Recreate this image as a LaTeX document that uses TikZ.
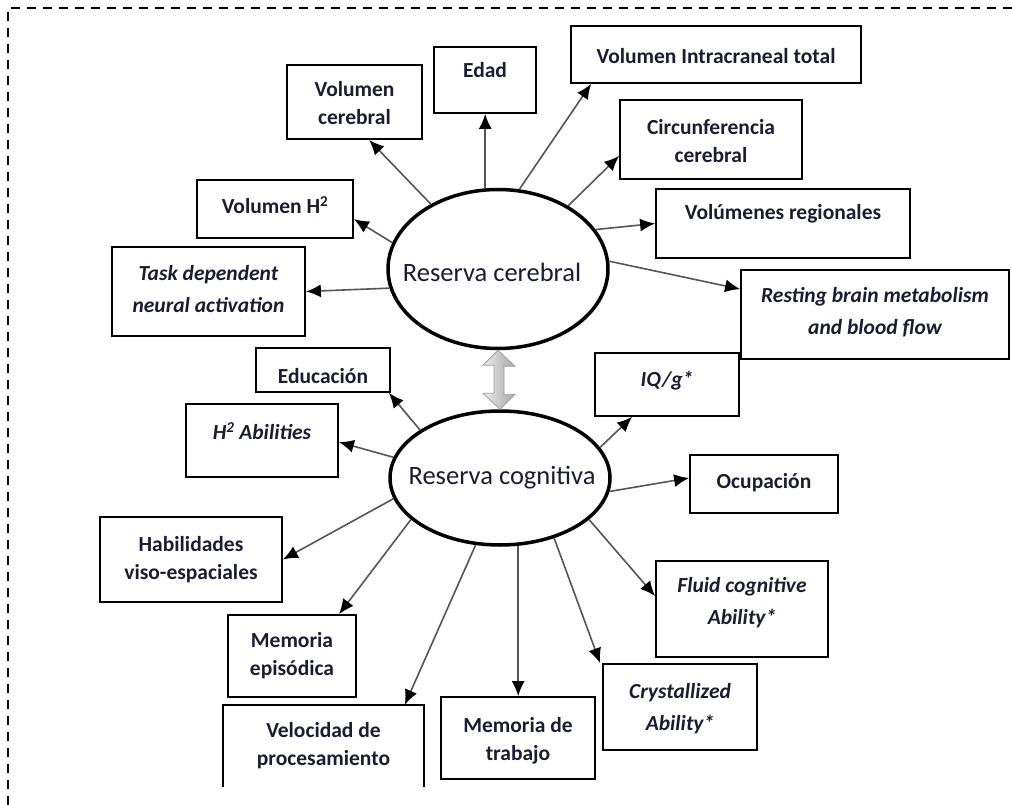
\documentclass[tikz,border=0pt]{standalone}
\usepackage{fontspec}
\setmainfont{Carlito}
\usetikzlibrary{shapes.geometric,arrows.meta,calc}

\definecolor{ink}{RGB}{28,28,48}
\definecolor{wire}{RGB}{85,85,85}

\tikzset{
  box/.style={draw=black, line width=1.8pt, rectangle, inner sep=0pt},
  lbl/.style={font=\fontsize{21.5}{28}\selectfont\bfseries, text=ink, align=center, inner sep=0pt},
  ilbl/.style={font=\fontsize{21.5}{32}\selectfont\bfseries\itshape, text=ink, align=center, inner sep=0pt},
  hub/.style={ellipse, draw=black, line width=3.5pt, fill=white, inner sep=0pt},
  hubtext/.style={font=\fontsize{26.5}{30}\selectfont, text=ink, inner sep=0pt},
  conn/.style={draw=wire, line width=1.6pt, -{Latex[length=15pt,width=13pt,color=black]}},
  frame/.style={draw=black, line width=1.6pt, dash pattern=on 9pt off 7pt},
}

% \panel[text style]{name}{x1}{y1}{x2}{y2}{text y}{text}
\newcommand\panel[8][lbl]{%
  \node[box, minimum width={#5-#3}, minimum height={#6-#4}] (#2) at ({(#3+#5)/2},{(#4+#6)/2}) {};
  \node[#1] (#2-t) at ({(#3+#5)/2},#7) {#8};
}

\begin{document}
\begin{tikzpicture}[x=1pt,y=-1pt]
\useasboundingbox (0,0) rectangle (1012,805);

% dashed frame (top and left sides)
\draw[frame] (1012,8) -- (8,8) -- (8,805);

% the two central ellipses
\node[hub, minimum width=220, minimum height=159] (rc) at (498,269) {};
\node[hubtext] (rc-t) at (492,272) {Reserva cerebral};
\node[hub, minimum width=220, minimum height=134] (rk) at (500,478) {};
\node[hubtext] (rk-t) at (502,478) {Reserva cognitiva};

% boxes around "Reserva cerebral"
\panel{vc}{287}{65}{422}{139}{103}{Volumen\\cerebral}
\panel{edad}{434}{47}{536}{113}{70}{Edad}
\panel{vit}{571}{26}{861}{83}{56}{Volumen Intracraneal total}
\panel{circ}{620}{100}{802}{179}{141}{Circunferencia\\cerebral}
\panel{vr}{656}{189}{910}{258}{214}{Volúmenes regionales}
\panel[ilbl]{rb}{741}{270}{1009}{359}{312}{Resting brain metabolism\\and blood flow}
\panel[ilbl]{td}{112}{247}{305}{336}{289}{Task dependent\\neural activation}
\panel{vh}{197}{180}{353}{238}{205}{Volumen H\textsuperscript{2}}

% boxes around "Reserva cognitiva"
\panel{edu}{256}{348}{390}{392}{376}{Educación}
\panel[ilbl]{h2a}{186}{404}{338}{477}{431}{H\textsuperscript{2} Abilities}
\panel[ilbl]{iq}{595}{353}{739}{416}{381}{IQ/g*}
\panel{ocup}{690}{455}{838}{513}{483}{Ocupación}
\panel{hab}{100}{517}{282}{602}{560}{Habilidades\\viso-espaciales}
\panel{epi}{228}{615}{356}{697}{656}{Memoria\\episódica}
\panel{mt}{441}{697}{595}{779}{741}{Memoria de\\trabajo}
\panel[ilbl]{cr}{603}{664}{757}{750}{709}{Crystallized\\Ability*}
\panel[ilbl]{fl}{656}{561}{828}{657}{603}{Fluid cognitive\\Ability*}

% box whose lower edge runs off the page
\node[inner sep=0pt, minimum width=201, minimum height=82] (vel) at (323.5,746) {};
\draw[line width=1.8pt] (vel.south west) -- (vel.north west) -- (vel.north east) -- (vel.south east);
\node[lbl] (vel-t) at (323.5,746) {Velocidad de\\procesamiento};

% connectors from "Reserva cerebral"
\draw[conn] (rc.136) -- ($(vc.south west)+(83,0)$);
\draw[conn] (rc.166) -- ($(vh.north east)+(0,40)$);
\draw[conn] (rc.99) -- (rc.99 |- edad.south);
\draw[conn] (rc.75) -- ($(vit.south west)+(21,0)$);
\draw[conn] (rc.42) -- ($(circ.south west)+(0,-24)$);
\draw[conn] (rc.22) -- (vr.west);
\draw[conn] (rc.4) -- ($(rb.north west)+(0,20)$);
\draw[conn] (rc.190) -- (td.east);

% connectors from "Reserva cognitiva"
\draw[conn] (rk.149) -- ($(edu.south east)+(-2,0)$);
\draw[conn] (rk.169) -- ($(h2a.north east)+(0,39)$);
\draw[conn] (rk.-7) -- ($(ocup.west)+(0,-6)$);
\draw[conn] (rk.17) -- ($(iq.south west)+(38,0)$);
\draw[conn] (rk.-25) -- ($(fl.north west)+(0,36)$);
\draw[conn] (rk.-48) -- ($(cr.north west)+(-2,0)$);
\draw[conn] (rk.-75) -- (rk.-75 |- mt.north);
\draw[conn] (rk.-110) -- ($(vel.north west)+(182,0)$);
\draw[conn] (rk.-155) -- ($(epi.north west)+(112,0)$);
\draw[conn] (rk.-169) -- (hab.east);

% hollow double arrow linking the two ellipses
\draw[draw=gray!75, line width=0.8pt, left color=gray!15, right color=gray!70]
  (rc.south) -- ++(17,16) -- ++(-11,0) -- ++(0,28) -- ++(11,0) -- (rk.north)
  -- ++(-17,-16) -- ++(11,0) -- ++(0,-28) -- ++(-11,0) -- cycle;
\end{tikzpicture}
\end{document}
